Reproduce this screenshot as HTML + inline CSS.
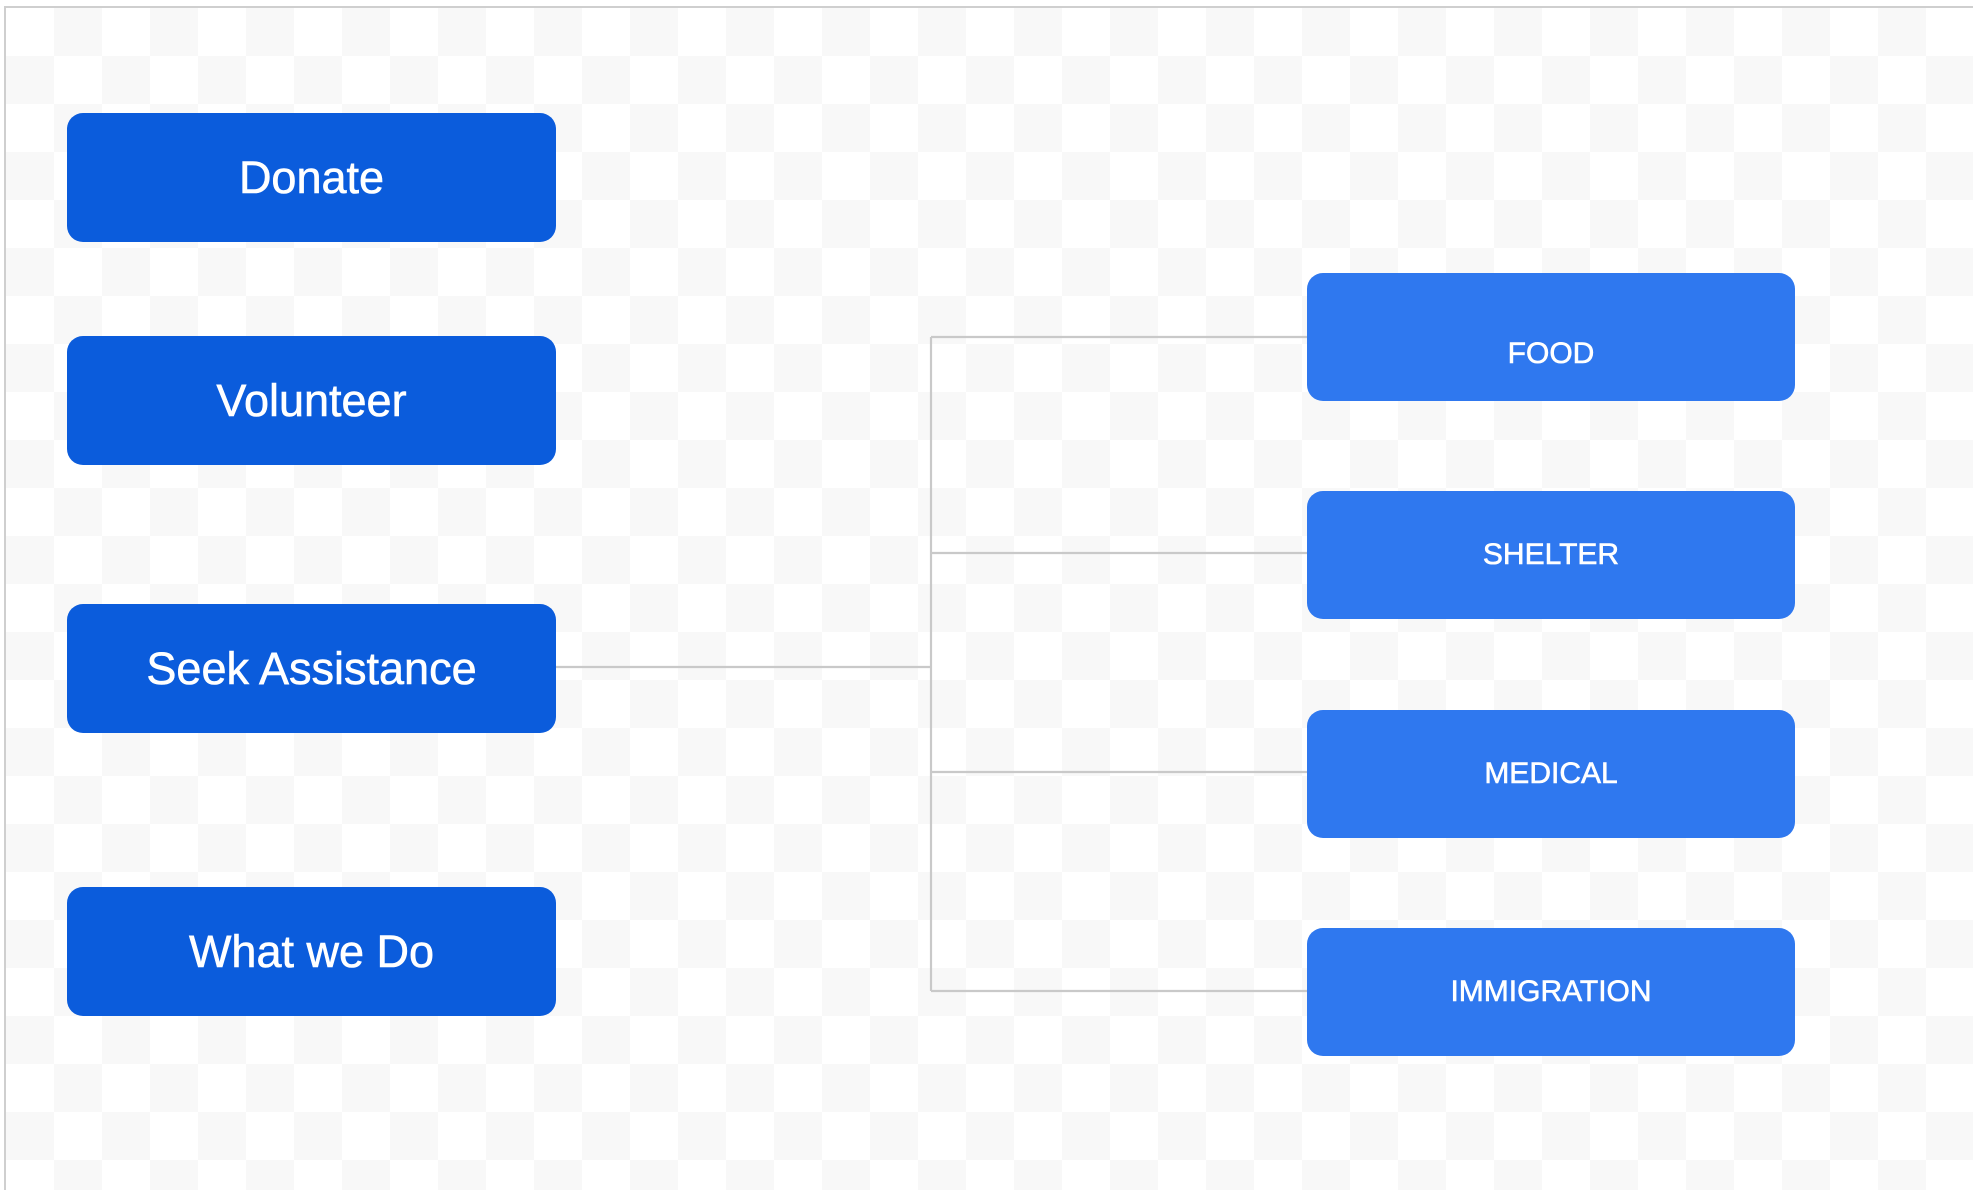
<!DOCTYPE html>
<html><head><meta charset="utf-8"><style>
html,body{margin:0;padding:0;width:1973px;height:1190px;overflow:hidden;background:#fff;}
.frame{position:absolute;left:4px;top:6px;width:1969px;height:1184px;border-left:2px solid #cfcfcf;border-top:2px solid #cfcfcf;box-sizing:border-box;
background-color:#fff;
background-image:linear-gradient(45deg,#f8f8f8 25%,transparent 25%,transparent 75%,#f8f8f8 75%),linear-gradient(45deg,#f8f8f8 25%,transparent 25%,transparent 75%,#f8f8f8 75%);
background-size:96px 96px;background-position:0 0,48px 48px;}
.b{position:absolute;border-radius:16px;color:#fff;display:flex;align-items:center;justify-content:center;font-family:"Liberation Sans",sans-serif;-webkit-text-stroke:0.6px #fff;}
.l{left:67px;width:489px;height:129px;background:#0b5cdc;font-size:45px;}
.r{left:1307px;width:488px;height:128px;background:#2f78ef;font-size:30px;}
</style></head><body>
<div class="frame"></div>
<svg width="1973" height="1190" style="position:absolute;left:0;top:0">
<g stroke="#c9c9c9" stroke-width="2.2" fill="none">
<line x1="556" y1="667" x2="931" y2="667"/>
<line x1="931" y1="337" x2="931" y2="991"/>
<line x1="931" y1="337" x2="1307" y2="337"/>
<line x1="931" y1="553" x2="1307" y2="553"/>
<line x1="931" y1="772" x2="1307" y2="772"/>
<line x1="931" y1="991" x2="1307" y2="991"/>
</g></svg>
<div class="b l" style="top:113px">Donate</div>
<div class="b l" style="top:336px">Volunteer</div>
<div class="b l" style="top:604px">Seek Assistance</div>
<div class="b l" style="top:887px">What we Do</div>
<div class="b r" style="top:273px;padding-top:34px;box-sizing:border-box">FOOD</div>
<div class="b r" style="top:491px">SHELTER</div>
<div class="b r" style="top:710px">MEDICAL</div>
<div class="b r" style="top:928px">IMMIGRATION</div>
</body></html>
